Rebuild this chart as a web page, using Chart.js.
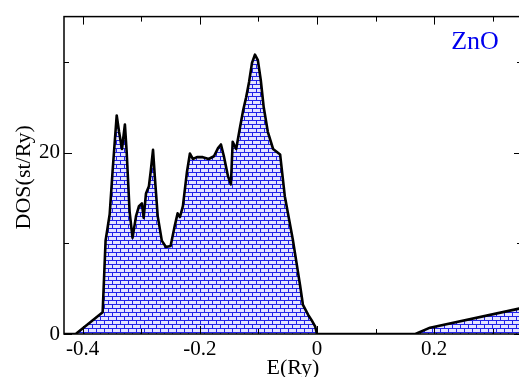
<!DOCTYPE html>
<html>
<head>
<meta charset="utf-8">
<script src="https://cdn.jsdelivr.net/npm/chart.js@4/dist/chart.umd.min.js"></script>
<style>
  html, body { margin:0; padding:0; background:#fff; overflow:hidden; }
  #wrap { width:522px; height:377px; }
</style>
</head>
<body>
<div id="wrap"><canvas id="dos"></canvas></div>
<script>
// DOS curve of ZnO
const energy = [-0.432, -0.412, -0.366, -0.361, -0.354, -0.349, -0.342, -0.338, -0.333, -0.328,
  -0.325, -0.320, -0.315, -0.309, -0.304, -0.299, -0.296, -0.292, -0.287, -0.284,
  -0.280, -0.277, -0.272, -0.265, -0.258, -0.250, -0.243, -0.238, -0.234, -0.229,
  -0.222, -0.217, -0.212, -0.205, -0.195, -0.185, -0.176, -0.169, -0.164, -0.159,
  -0.152, -0.147, -0.144, -0.138, -0.132, -0.126, -0.121, -0.116, -0.111, -0.106,
  -0.101, -0.096, -0.091, -0.084, -0.075, -0.063, -0.055, -0.041, -0.029, -0.024,
  -0.015, -0.009, -0.003, 0.0, 0.168, 0.193, 0.345, 0.35];
const dos = [0, 0, 2.4, 10.3, 13.2, 18.0, 24.1, 22.3, 20.4, 23.1,
  20.1, 13.5, 10.6, 13.0, 14.1, 14.4, 12.8, 15.5, 16.3, 17.9,
  20.3, 17.4, 13.0, 10.3, 9.6, 9.7, 11.9, 13.3, 12.9, 14.1,
  17.9, 19.9, 19.3, 19.5, 19.5, 19.3, 19.6, 20.5, 20.9, 19.6,
  17.4, 16.5, 21.2, 20.4, 22.6, 24.7, 26.1, 27.8, 29.9, 30.8,
  30.2, 28.0, 25.0, 22.3, 20.4, 19.8, 15.2, 10.3, 5.4, 3.2,
  2.1, 1.5, 0.8, 0, 0, 0.7, 2.8, 2.85];

const xLabels = [-0.4, -0.2, 0, 0.2];
const yLabels = [0, 20];

const SERIF = '"Liberation Serif", "DejaVu Serif", serif';

// brick hatch fill
function brickPattern(){
  const c = document.createElement('canvas');
  c.width = 8; c.height = 8;
  const g = c.getContext('2d');
  g.fillStyle = '#e4e4ff';
  g.fillRect(0, 0, 8, 8);
  g.fillStyle = '#2222e8';
  g.fillRect(0, 0, 8, 1);
  g.fillRect(0, 4, 8, 1);
  g.fillRect(0, 0, 1, 4);
  g.fillRect(4, 4, 1, 4);
  return g.createPattern(c, 'repeat');
}

function near(v, list){ return list.some(t => Math.abs(v - t) < 1e-6); }

// frame, inward ticks, axis titles and the label
const framePlugin = {
  id: 'frame',
  afterDraw(chart){
    const {ctx, chartArea: a, scales: {x, y}} = chart;
    ctx.save();
    ctx.strokeStyle = '#000';
    ctx.lineWidth = 1.5;
    ctx.strokeRect(a.left, a.top, a.right - a.left, a.bottom - a.top);
    ctx.lineWidth = 1;
    ctx.beginPath();
    for (let v = -0.4; v <= 0.35; v += 0.1) {
      const vv = Math.round(v * 10) / 10;
      const px = Math.round(x.getPixelForValue(vv)) + 0.5;
      const len = near(vv, xLabels) ? 8 : 5;
      ctx.moveTo(px, a.bottom); ctx.lineTo(px, a.bottom - len);
      ctx.moveTo(px, a.top); ctx.lineTo(px, a.top + len);
    }
    for (let v = 0; v <= 35; v += 10) {
      const py = Math.round(y.getPixelForValue(v)) + 0.5;
      const len = v % 20 === 0 ? 8 : 5;
      ctx.moveTo(a.left, py); ctx.lineTo(a.left + len, py);
      ctx.moveTo(a.right, py); ctx.lineTo(a.right - len, py);
    }
    ctx.stroke();

    ctx.fillStyle = '#000';
    ctx.font = '22px ' + SERIF;
    ctx.textAlign = 'center';
    ctx.textBaseline = 'alphabetic';
    ctx.fillText('E(Ry)', (a.left + a.right) / 2, 374);
    ctx.save();
    ctx.translate(30, (a.top + a.bottom) / 2 + 2);
    ctx.rotate(-Math.PI / 2);
    ctx.fillText('DOS(st/Ry)', 0, 0);
    ctx.restore();

    ctx.fillStyle = '#0000ee';
    ctx.font = '26px ' + SERIF;
    ctx.fillText('ZnO', 475, 49);
    ctx.restore();
  }
};

const ctx = document.getElementById('dos').getContext('2d');
new Chart(ctx, {
  type: 'line',
  data: {
    datasets: [{
      data: energy.map((e, i) => ({x: e, y: dos[i]})),
      borderColor: '#000',
      borderWidth: 2.6,
      backgroundColor: brickPattern(),
      fill: 'origin',
      tension: 0,
      pointRadius: 0,
      borderJoinStyle: 'round'
    }]
  },
  options: {
    responsive: true,
    maintainAspectRatio: false,
    animation: false,
    layout: { padding: { top: 13, right: 0, left: 0, bottom: 0 } },
    plugins: { legend: { display: false }, tooltip: { enabled: false } },
    scales: {
      x: {
        type: 'linear',
        min: -0.432, max: 0.35,
        afterBuildTicks(s){ s.ticks = xLabels.map(v => ({value: v})); },
        ticks: {
          autoSkip: false, maxRotation: 0, padding: 3,
          color: '#000', font: { family: SERIF, size: 21 },
          callback: v => (Math.abs(v) < 1e-9 ? '0' : String(Math.round(v * 10) / 10))
        },
        grid: { display: false, drawTicks: false },
        border: { display: false },
        afterFit(s){ s.height = 43; }
      },
      y: {
        min: 0, max: 35,
        afterBuildTicks(s){ s.ticks = yLabels.map(v => ({value: v})); },
        ticks: {
          autoSkip: false, padding: 4,
          color: '#000', font: { family: SERIF, size: 21 }
        },
        grid: { display: false, drawTicks: false },
        border: { display: false },
        afterFit(s){ s.width = 64; }
      }
    }
  },
  plugins: [framePlugin]
});
</script>
</body>
</html>
